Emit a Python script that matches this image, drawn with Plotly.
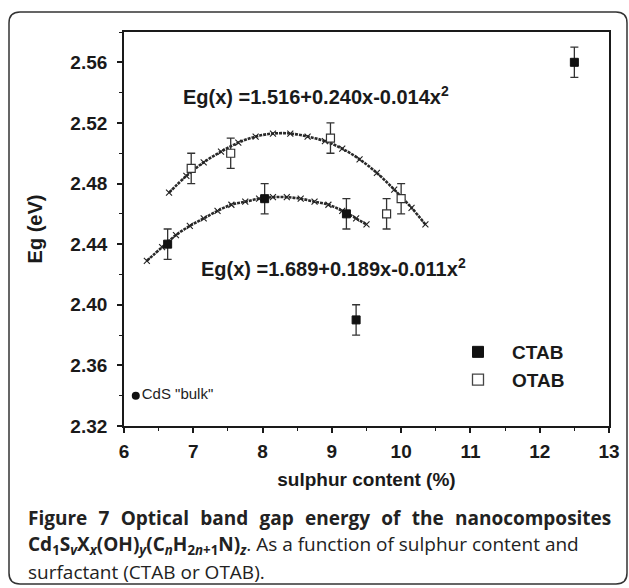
import plotly.graph_objects as go

# ---- data ----
ctab_x = [6.63, 8.03, 9.21, 9.35, 12.5]
ctab_y = [2.44, 2.47, 2.46, 2.39, 2.56]
ctab_err = [0.01, 0.01, 0.01, 0.01, 0.01]

otab_x = [6.97, 7.54, 8.98, 9.79, 10.0]
otab_y = [2.49, 2.50, 2.51, 2.46, 2.47]
otab_err = [0.01, 0.01, 0.01, 0.01, 0.01]

bulk_x = [6.17]
bulk_y = [2.34]

# fitted curves, points
fit_otab_x = [6.65, 6.9, 7.15, 7.4, 7.65, 7.9, 8.15, 8.4, 8.65, 8.9, 9.15, 9.4, 9.65, 9.9, 10.15, 10.35]
fit_otab_y = [2.474, 2.485, 2.494, 2.501, 2.507, 2.511, 2.513, 2.513, 2.511, 2.508, 2.503, 2.496, 2.487, 2.476, 2.464, 2.453]

fit_ctab_x = [6.33, 6.55, 6.75, 6.95, 7.15, 7.35, 7.55, 7.75, 7.95, 8.15, 8.35, 8.55, 8.75, 8.95, 9.15, 9.35, 9.5]
fit_ctab_y = [2.429, 2.438, 2.446, 2.452, 2.457, 2.462, 2.466, 2.468, 2.470, 2.471, 2.471, 2.470, 2.468, 2.466, 2.462, 2.457, 2.453]

x_ticks = [6, 7, 8, 9, 10, 11, 12, 13]
x_tick_text = ["6", "7", "8", "9", "10", "11", "12", "13"]
y_ticks = [2.32, 2.36, 2.40, 2.44, 2.48, 2.52, 2.56]
y_tick_text = ["2.32", "2.36", "2.40", "2.44", "2.48", "2.52", "2.56"]

eq_otab = "<b>Eg(x) =1.516+0.240x-0.014x<sup>2</sup></b>"
eq_ctab = "<b>Eg(x) =1.689+0.189x-0.011x<sup>2</sup></b>"

# ---- layout geometry ----
W, H = 629, 588
ML, MR, MT, MB = 124, 20, 32, 162
PW, PH = W - ML - MR, H - MT - MB


def px(x):
    return (x - ML) / PW


def py(y):
    return (H - MB - y) / PH


DARK = "#1a1a1a"
FAM = "Liberation Sans, Arial"
AX_FONT = dict(family=FAM, size=19, color=DARK)

fig = go.Figure()

# fit curves
for fx, fy in [(fit_otab_x, fit_otab_y), (fit_ctab_x, fit_ctab_y)]:
    fig.add_trace(go.Scatter(
        x=fx, y=fy, mode="lines+markers", line=dict(color="#2a2a2a", width=2.6, shape="spline", dash="3px,1px"),
        marker=dict(symbol="x-thin", size=6, line=dict(width=1.1, color="#222")),
        showlegend=False, hoverinfo="skip"))

fig.add_trace(go.Scatter(
    x=ctab_x, y=ctab_y, mode="markers",
    marker=dict(symbol="square", size=8, color="#111", line=dict(width=1, color="#111")),
    error_y=dict(type="data", array=ctab_err, thickness=1.3, width=4, color="#333"),
    showlegend=False))

fig.add_trace(go.Scatter(
    x=otab_x, y=otab_y, mode="markers",
    marker=dict(symbol="square", size=8, color="white", line=dict(width=1.2, color="#333")),
    error_y=dict(type="data", array=otab_err, thickness=1.3, width=4, color="#333"),
    showlegend=False))

fig.add_trace(go.Scatter(
    x=bulk_x, y=bulk_y, mode="markers+text", text=['CdS "bulk"'], textposition="middle right",
    textfont=dict(family=FAM, size=15, color="#222"),
    marker=dict(symbol="circle", size=8, color="#111"), showlegend=False))

# legend-only traces
fig.add_trace(go.Scatter(x=[None], y=[None], mode="markers", name="<b>CTAB</b>",
                         marker=dict(symbol="square", size=11, color="#111", line=dict(width=1, color="#111"))))
fig.add_trace(go.Scatter(x=[None], y=[None], mode="markers", name="<b>OTAB</b>",
                         marker=dict(symbol="square", size=11, color="white", line=dict(width=1.3, color="#444"))))

# equations
fig.add_annotation(x=8.77, y=2.538, xref="x", yref="y", text=eq_otab, showarrow=False,
                   font=dict(family=FAM, size=20, color=DARK))
fig.add_annotation(x=9.02, y=2.4245, xref="x", yref="y", text=eq_ctab, showarrow=False,
                   font=dict(family=FAM, size=20, color=DARK))

# caption (first line justified in the reference: widened word gaps)
CAP_FONT = "Open Sans, Noto Sans, sans-serif"
cap1_words = ["Figure", "7", "Optical", "band", "gap", "energy", "of", "the", "nanocomposites"]
cap1 = "<b>" + " &#8196;".join(cap1_words) + "</b>"
cap2 = ("<b>Cd<sub>1</sub>S<sub><i>v</i></sub>X<sub><i>x</i></sub>(OH)<sub><i>y</i></sub>"
        "(C<sub><i>n</i></sub>H<sub>2<i>n</i>+1</sub>N)<sub><i>z</i></sub></b>. As a function of sulphur content and")
cap3 = "surfactant (CTAB or OTAB)."
for txt, yy in [(cap1, 518), (cap2, 545), (cap3, 572)]:
    fig.add_annotation(x=px(26), y=py(yy), xref="paper", yref="paper", xanchor="left", yanchor="middle",
                       text=txt, showarrow=False, font=dict(family=CAP_FONT, size=19, color="#222"))

# rounded outer frame
x0, x1, y0, y1, r = 9, 627, 12, 584, 11


def P(a, b):
    return f"{px(a):.5f},{py(b):.5f}"


path = (f"M {P(x0 + r, y0)} L {P(x1 - r, y0)} Q {P(x1, y0)} {P(x1, y0 + r)} "
        f"L {P(x1, y1 - r)} Q {P(x1, y1)} {P(x1 - r, y1)} L {P(x0 + r, y1)} "
        f"Q {P(x0, y1)} {P(x0, y1 - r)} L {P(x0, y0 + r)} Q {P(x0, y0)} {P(x0 + r, y0)} Z")
fig.add_shape(type="path", path=path, xref="paper", yref="paper", line=dict(color="#333", width=1.5))

fig.update_layout(
    width=W, height=H, margin=dict(l=ML, r=MR, t=MT, b=MB, autoexpand=False),
    paper_bgcolor="white", plot_bgcolor="white",
    legend=dict(x=px(444), y=py(333), xanchor="left", yanchor="top", itemwidth=58,
                font=dict(family=FAM, size=19, color=DARK),
                bgcolor="rgba(0,0,0,0)", tracegroupgap=0),
    xaxis=dict(range=[6, 13], tickvals=x_ticks, ticktext=["<b>%s</b>" % t for t in x_tick_text],
               ticks="outside", ticklen=5, tickwidth=1.5, tickcolor=DARK,
               showline=True, linewidth=1.8, linecolor=DARK, mirror=True, showgrid=False, zeroline=False,
               tickfont=AX_FONT, ticklabelstandoff=2,
               minor=dict(dtick=0.5, ticks="outside", ticklen=3, tickwidth=1.3, tickcolor=DARK),
               title=dict(text="<b>sulphur content (%)</b>", font=dict(family=FAM, size=19, color=DARK),
                          standoff=12)),
    yaxis=dict(range=[2.32, 2.58], tickvals=y_ticks, ticktext=["<b>%s</b>" % t for t in y_tick_text],
               ticks="outside", ticklen=5, tickwidth=1.5,
               tickcolor=DARK, showline=True, linewidth=1.8, linecolor=DARK, mirror=True, showgrid=False,
               zeroline=False, tickfont=AX_FONT, ticklabelstandoff=6,
               minor=dict(dtick=0.02, ticks="outside", ticklen=3, tickwidth=1.3, tickcolor=DARK),
               title=dict(text="<b>Eg (eV)</b>", font=dict(family=FAM, size=20, color=DARK),
                          standoff=22)),
)

fig.write_html("out.html")
